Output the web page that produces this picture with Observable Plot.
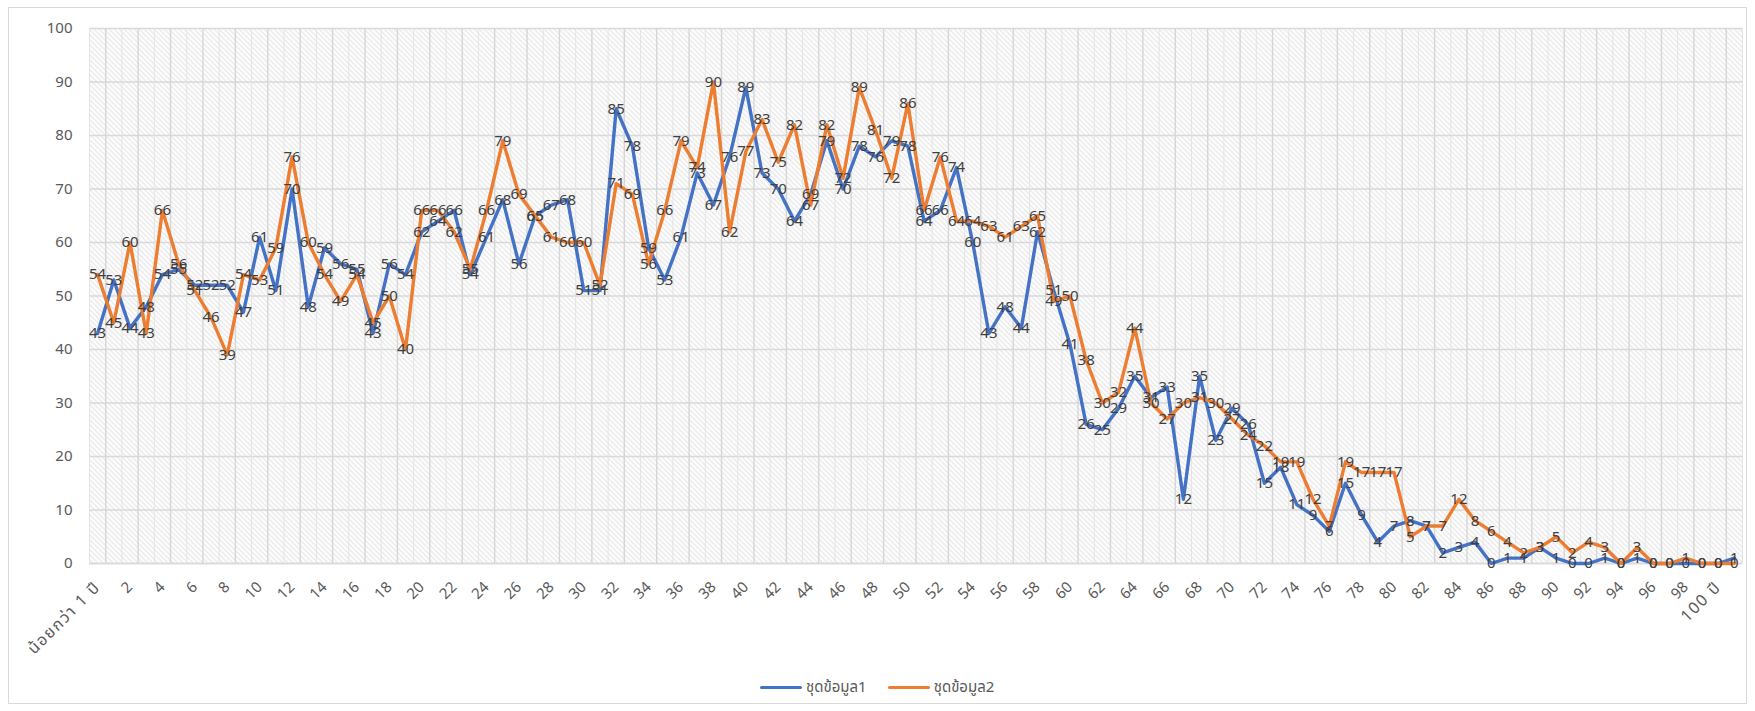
<!DOCTYPE html>
<html>
<head>
<meta charset="utf-8">
<script src="https://cdn.jsdelivr.net/npm/d3@7"></script>
<script src="https://cdn.jsdelivr.net/npm/@observablehq/plot@0.6"></script>
<style>
  html, body { margin: 0; padding: 0; background: #ffffff; }
  #wrap { position: relative; width: 1755px; height: 711px; overflow: hidden; }
  #border { position: absolute; left: 8px; top: 7px; width: 1739px; height: 697px; border: 1px solid #d9d9d9; box-sizing: border-box; }
  #chart { position: absolute; left: 0; top: 0; }
  #legend { position: absolute; top: 676px; left: 760px; display: flex; align-items: center; height: 22px;
            font-family: "Noto Sans Thai", "Leelawadee UI", Tahoma, "Noto Sans", "DejaVu Sans", sans-serif; font-size: 15px; color: #595959; }
  .item { display: flex; align-items: center; }
  .sw { width: 42px; height: 3px; border-radius: 2px; margin-right: 4px; }
</style>
</head>
<body>
<div id="wrap">
  <div id="border"></div>
  <div id="chart"></div>
  <div id="legend"></div>
</div>
<script>
// ---- data ----
const categories = ["น้อยกว่า 1 ปี"]
  .concat(d3.range(1, 100).map(String))
  .concat(["100 ปี", "มากกว่า 100 ปี"]);

const seriesNames = ["ชุดข้อมูล1", "ชุดข้อมูล2"];
const seriesColors = ["#4472C4", "#ED7D31"];

const series1 = [
  43, 53, 44, 48, 54, 55, 52, 52, 52, 47,
  61, 51, 70, 48, 59, 56, 55, 43, 56, 54,
  62, 64, 66, 54, 61, 68, 56, 65, 67, 68,
  51, 51, 85, 78, 59, 53, 61, 73, 67, 76,
  89, 73, 70, 64, 69, 79, 70, 78, 76, 79,
  78, 64, 66, 74, 60, 43, 48, 44, 62, 51,
  41, 26, 25, 29, 35, 31, 33, 12, 35, 23,
  29, 26, 15, 18, 11, 9, 6, 15, 9, 4,
  7, 8, 7, 2, 3, 4, 0, 1, 1, 3,
  1, 0, 0, 1, 0, 1, 0, 0, 0, 0,
  0, 1
];
const series2 = [
  54, 45, 60, 43, 66, 56, 51, 46, 39, 54,
  53, 59, 76, 60, 54, 49, 54, 45, 50, 40,
  66, 66, 62, 55, 66, 79, 69, 65, 61, 60,
  60, 52, 71, 69, 56, 66, 79, 74, 90, 62,
  77, 83, 75, 82, 67, 82, 72, 89, 81, 72,
  86, 66, 76, 64, 64, 63, 61, 63, 65, 49,
  50, 38, 30, 32, 44, 30, 27, 30, 31, 30,
  27, 24, 22, 19, 19, 12, 7, 19, 17, 17,
  17, 5, 7, 7, 12, 8, 6, 4, 2, 3,
  5, 2, 4, 3, 0, 3, 0, 0, 1, 0,
  0, 0
];
const yTicks = [0, 10, 20, 30, 40, 50, 60, 70, 80, 90, 100];

// ---- build ----
const FONT = '"Noto Sans Thai", "Leelawadee UI", Tahoma, "Noto Sans", "DejaVu Sans", sans-serif';
const W = 1755, H = 660, ML = 89, MR = 13, MT = 28, MB = 97;
const step = (W - ML - MR) / categories.length;

const rows1 = categories.map((c, i) => ({cat: c, v: series1[i]}));
const rows2 = categories.map((c, i) => ({cat: c, v: series2[i]}));
const idx = new Map(categories.map((c, i) => [c, i]));

const hatchDefs = () => {
  const defs = d3.create("svg:defs");
  const p = defs.append("pattern").attr("id", "hatchbg")
    .attr("width", 5).attr("height", 5).attr("patternUnits", "userSpaceOnUse");
  p.append("rect").attr("width", 5).attr("height", 5).attr("fill", "#ffffff");
  p.append("path").attr("d", "M-1,-1L6,6M-1,4L1,6M4,-1L6,1")
    .attr("stroke", "#e0e0e0").attr("stroke-width", 1.1).attr("fill", "none");
  return defs.node();
};

const oddCats = categories.filter((c, i) => i % 2 === 1);
const evenCats = categories.filter((c, i) => i % 2 === 0);

const chart = Plot.plot({
  width: W, height: H,
  marginLeft: ML, marginRight: MR, marginTop: MT, marginBottom: MB,
  style: {fontFamily: FONT, fontSize: "15px", color: "#595959", background: "transparent", overflow: "visible"},
  x: {type: "point", domain: categories, padding: 0.5, align: 0.5, round: false,
      tickSize: 0, tickPadding: 21, tickRotate: -45, label: null,
      tickFormat: d => (idx.get(d) % 2 === 0 && idx.get(d) <= 100) ? d : ""},
  y: {domain: [0, 100], ticks: yTicks, tickSize: 0, tickPadding: 17, label: null},
  marks: [
    hatchDefs,
    Plot.frame({fill: "url(#hatchbg)", stroke: "none"}),
    Plot.ruleY(yTicks, {stroke: "#d9d9d9", strokeWidth: 1.3}),
    Plot.ruleX(evenCats, {x: d => d, dx: -step / 2, stroke: "#e4e4e4", strokeWidth: 1}),
    Plot.ruleX(oddCats, {x: d => d, dx: -step / 2, stroke: "#d6d6d6", strokeWidth: 1.4}),
    Plot.ruleX([categories[categories.length - 1]], {x: d => d, dx: step / 2, stroke: "#e4e4e4", strokeWidth: 1}),
    Plot.ruleY([0], {stroke: "#d9d9d9", strokeWidth: 1.6}),
    Plot.line(rows1, {x: "cat", y: "v", stroke: seriesColors[0], strokeWidth: 3.4, strokeLinejoin: "round", strokeLinecap: "round"}),
    Plot.line(rows2, {x: "cat", y: "v", stroke: seriesColors[1], strokeWidth: 3.4, strokeLinejoin: "round", strokeLinecap: "round"}),
    Plot.text(rows1, {x: "cat", y: "v", text: d => String(d.v), fill: "#404040", fontSize: 15}),
    Plot.text(rows2, {x: "cat", y: "v", text: d => String(d.v), fill: "#404040", fontSize: 15})
  ]
});
document.getElementById("chart").appendChild(chart);

// Thai tick labels are set wider, as in the reference's font
d3.select(chart).selectAll("text").filter(function() {
  return /[\u0E00-\u0E7F]/.test(this.textContent);
}).attr("font-size", 16).attr("letter-spacing", "1.5px");

// legend
const legend = d3.select("#legend");
seriesNames.forEach((name, i) => {
  const it = legend.append("div").attr("class", "item").style("margin-right", i === 0 ? "21px" : "0px");
  it.append("div").attr("class", "sw").style("background", seriesColors[i]);
  it.append("span").text(name);
});
</script>
</body>
</html>
